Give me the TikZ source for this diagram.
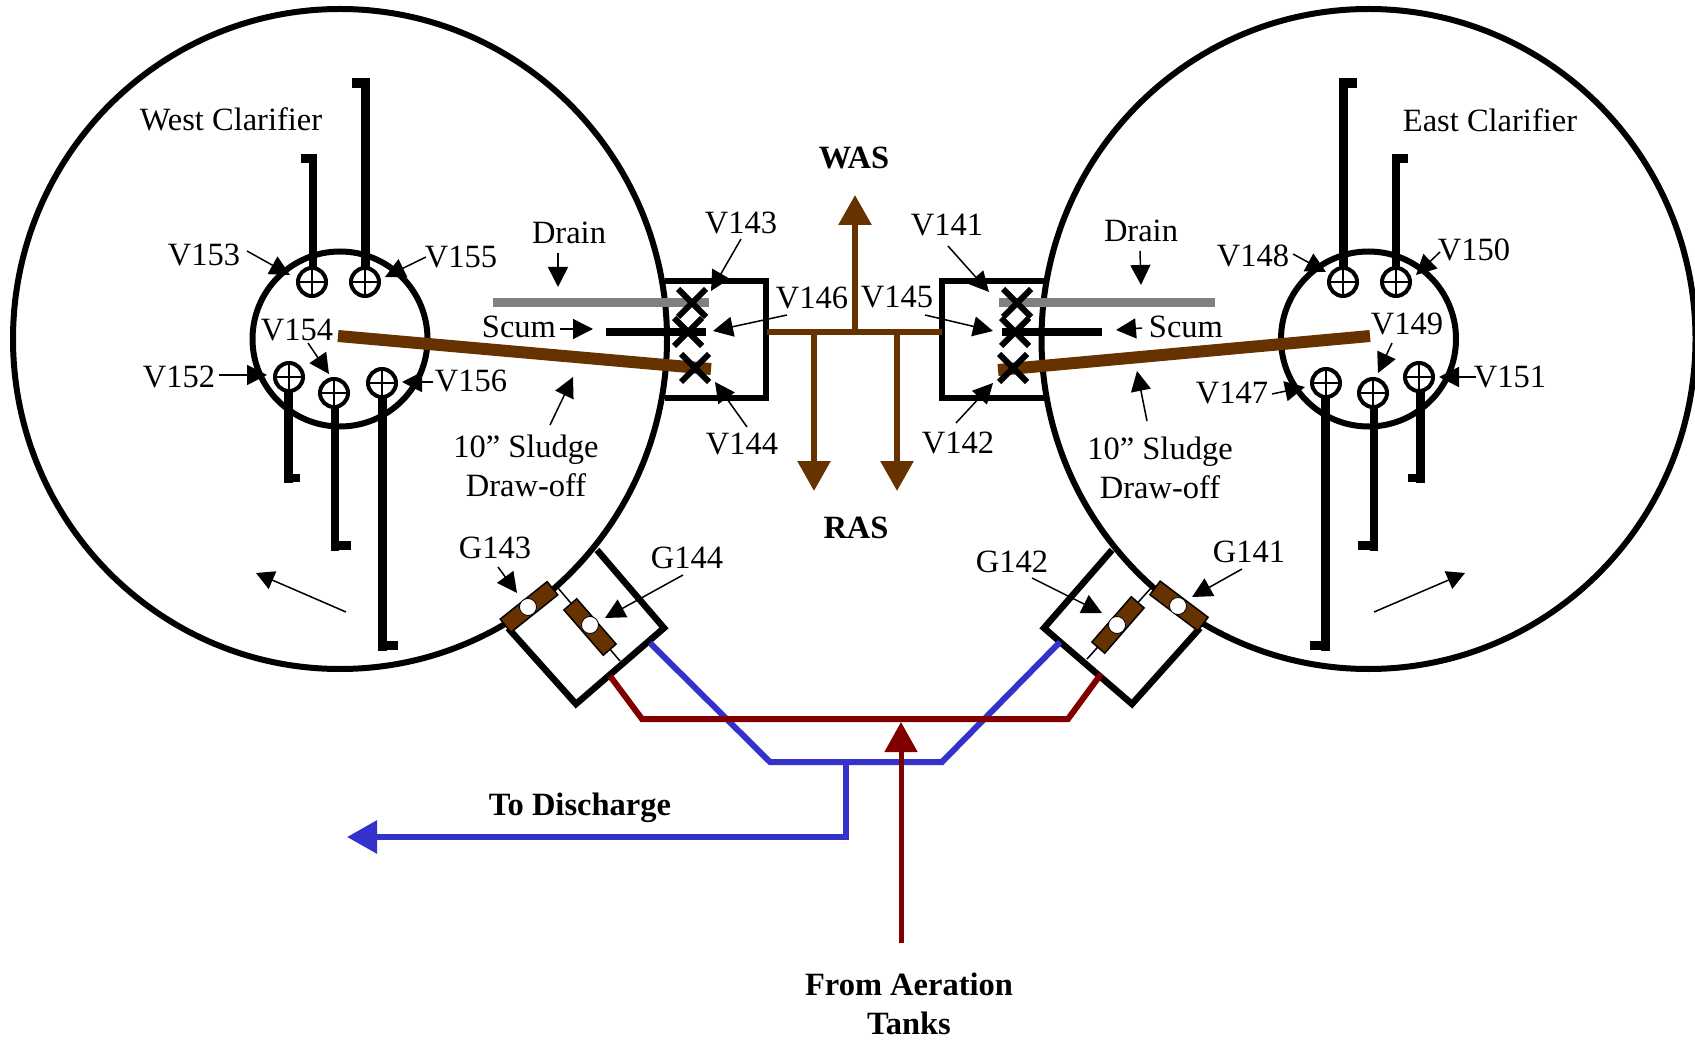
\documentclass[tikz,border=0pt]{standalone}
\usepackage{fontspec}
\setmainfont{Liberation Serif}
\usetikzlibrary{
  arrows.meta,
  shapes.geometric,
  shapes.misc
}
\definecolor{sludgebrown}{RGB}{102,51,0}
\definecolor{dischargeblue}{RGB}{51,51,204}
\definecolor{aerationred}{RGB}{128,0,0}
\definecolor{draingray}{RGB}{128,128,128}

\begin{document}
\begin{tikzpicture}[
  x=1pt, y=-1pt,
  lbl/.style={inner sep=0pt, align=center, font=\fontsize{32.5}{39}\selectfont},
  boldlbl/.style={lbl, font=\fontsize{32.5}{39}\selectfont\bfseries},
  clarifier/.style={ellipse, draw, line width=6pt, minimum width=654pt, minimum height=660pt, inner sep=0pt, outer sep=0pt},
  hub/.style={circle, draw, line width=6pt, minimum size=175pt, inner sep=0pt, outer sep=0pt},
  valve/.style={circle, draw, line width=4pt, fill=white, minimum size=28pt, inner sep=0pt, outer sep=0pt,
                path picture={
                  \draw[line width=1.5pt] (path picture bounding box.north) -- (path picture bounding box.south);
                  \draw[line width=1.5pt] (path picture bounding box.west) -- (path picture bounding box.east);
                }},
  xvalve/.style={cross out, draw, line width=6pt, minimum size=22pt, inner sep=0pt},
  gate/.style={rectangle, draw, line width=1.5pt, fill=sludgebrown, minimum width=60pt, minimum height=17pt, inner sep=0pt},
  hole/.style={circle, draw, line width=0.8pt, fill=white, minimum size=17pt, inner sep=0pt},
  pipe/.style={line width=9pt},
  thinpipe/.style={line width=8pt},
  wall/.style={line width=6.5pt, miter limit=10},
  callout/.style={-{Triangle[length=20pt,width=20pt]}, line width=1.5pt},
  rotation/.style={-{Triangle[length=18pt,width=19pt]}, line width=1.5pt},
  brownarr/.style={-{Triangle[length=30pt,width=32pt]}, line width=6pt, draw=sludgebrown, color=sludgebrown},
  brownline/.style={line width=6pt, draw=sludgebrown},
  bluearr/.style={-{Triangle[length=30pt,width=32pt]}, line width=6pt, draw=dischargeblue, color=dischargeblue},
  redarr/.style={-{Triangle[length=30pt,width=32pt]}, line width=5pt, draw=aerationred, color=aerationred}
]
\useasboundingbox (0,0) rectangle (1695,1040);

\node[clarifier] (west) at (340,339) {};
\node[clarifier] (east) at (1368.5,339) {};
\node[hub] (westhub) at (340,339) {};
\node[hub] (easthub) at (1368.5,339) {};

\node[lbl] at (231,119) (lwest) {West Clarifier};
\node[lbl] at (1490,120) (least) {East Clarifier};

% Valve boxes
\draw[wall] (665,281) -- (766,281) -- (766,398) -- (665,398);
\draw[wall] (1045,281) -- (942,281) -- (942,398) -- (1045,398);

% Sludge headers
\coordinate (boxW) at (767,332);
\coordinate (boxE) at (942,332);
\coordinate (teeWAS) at (855,332);
\coordinate (teeW) at (814,332);
\coordinate (teeE) at (897,332);
\coordinate (tipWAS) at (855,195);
\coordinate (tipW) at (814,491);
\coordinate (tipE) at (897,491);
\draw[brownline] (boxW) -- (boxE);
\draw[brownarr] (teeWAS) -- (tipWAS);
\draw[brownarr] (teeW) -- (tipW);
\draw[brownarr] (teeE) -- (tipE);
\node[boldlbl] at (854,158) (lWAS) {WAS};
\node[boldlbl] at (856,528) (lRAS) {RAS};

% Draw-offs, west
\draw[line width=9pt, draw=draingray] (493,303) -- (709,303);
\draw[line width=8pt] (606,332) -- (706,332);
\draw[line width=12pt, draw=sludgebrown] (338,336) -- (711,369);
\node[xvalve] (V143) at (692,303) {};
\node[xvalve] (V146) at (688,332) {};
\node[xvalve] (V144) at (695,368) {};

% Draw-offs, east
\draw[line width=9pt, draw=draingray] (999,303) -- (1215,303);
\draw[line width=8pt] (1002,332) -- (1102,332);
\draw[line width=12pt, draw=sludgebrown] (998,370) -- (1370,336);
\node[xvalve] (V141) at (1017,303) {};
\node[xvalve] (V145) at (1015,332) {};
\node[xvalve] (V142) at (1013,368) {};

% Hub valves, west
\node[valve] (V153) at (312,282) {};
\node[valve] (V155) at (365,282) {};
\node[valve] (V152) at (289,377) {};
\node[valve] (V154) at (334,393) {};
\node[valve] (V156) at (382,383) {};
\coordinate (endV153) at (312.5,154);
\coordinate (endV155) at (365.5,78);
\coordinate (endV152) at (288,483);
\coordinate (endV154) at (335,551);
\coordinate (endV156) at (382.5,651);
\draw[thinpipe] (V153.north -| endV153) -- (endV153);
\draw[pipe] (V155.north -| endV155) -- (endV155);
\draw[pipe] (V152.south -| endV152) -- (endV152);
\draw[thinpipe] (V154.south -| endV154) -- (endV154);
\draw[pipe] (V156.south -| endV156) -- (endV156);
\fill (301,154) rectangle (312.5,163);
\fill (352,78) rectangle (365.5,88);
\fill (288,474) rectangle (300,482);
\fill (335,541) rectangle (351,550);
\fill (382.5,641) rectangle (398,650);

% Hub valves, east
\node[valve] (V148) at (1343,282) {};
\node[valve] (V150) at (1396,282) {};
\node[valve] (V147) at (1326,383) {};
\node[valve] (V149) at (1373,393) {};
\node[valve] (V151) at (1419,377) {};
\coordinate (endV148) at (1343.5,78);
\coordinate (endV150) at (1396,154);
\coordinate (endV147) at (1325.5,651);
\coordinate (endV149) at (1374,551);
\coordinate (endV151) at (1420.5,483);
\draw[pipe] (V148.north -| endV148) -- (endV148);
\draw[thinpipe] (V150.north -| endV150) -- (endV150);
\draw[pipe] (V147.south -| endV147) -- (endV147);
\draw[thinpipe] (V149.south -| endV149) -- (endV149);
\draw[pipe] (V151.south -| endV151) -- (endV151);
\fill (1343.5,78) rectangle (1357,88);
\fill (1396,154) rectangle (1408,163);
\fill (1310,641) rectangle (1325.5,650);
\fill (1358,541) rectangle (1374,550);
\fill (1408,474) rectangle (1420.5,482);

% Gate boxes
\coordinate (linkWa) at (558,588);
\coordinate (linkWb) at (620,661);
\coordinate (linkEa) at (1151,588);
\coordinate (linkEb) at (1087,659);
\draw[wall] (597,550) -- (664,628) -- (576,704) -- (508,628);
\draw[wall] (1112,550) -- (1044,628) -- (1132,704) -- (1200,628);
\draw[line width=1.5pt] (linkWa) -- (linkWb);
\draw[line width=1.5pt] (linkEa) -- (linkEb);
\node[gate, rotate=38.6] (G143) at (529,607) {};
\node[gate, rotate=-49] (G144) at (590,627) {};
\node[gate, rotate=-37] (G141) at (1179,606) {};
\node[gate, rotate=49] (G142) at (1118,625) {};
\node[hole] (holeG143) at (528,607) {};
\node[hole] (holeG144) at (590,625) {};
\node[hole] (holeG141) at (1178,606) {};
\node[hole] (holeG142) at (1117,625) {};

% Discharge and aeration lines
\coordinate (gateWblue) at (650,643);
\coordinate (bendWblue) at (770,762);
\coordinate (teeBlue) at (846,762);
\coordinate (bendEblue) at (942,762);
\coordinate (gateEblue) at (1060,642);
\coordinate (bendBlue) at (846,837);
\coordinate (tipBlue) at (347,837);
\coordinate (gateWred) at (610,676);
\coordinate (bendWred) at (642,719);
\coordinate (bendEred) at (1068,719);
\coordinate (gateEred) at (1101,674);
\coordinate (fromTanks) at (901,943);
\coordinate (tipRed) at (901,722);
\draw[line width=6pt, draw=dischargeblue] (gateWblue) -- (bendWblue) -- (bendEblue) -- (gateEblue);
\draw[bluearr] (teeBlue) -- (bendBlue) -- (tipBlue);
\draw[line width=6pt, draw=aerationred] (gateWred) -- (bendWred) -- (bendEred) -- (gateEred);
\draw[redarr] (fromTanks) -- (tipRed);
\node[boldlbl] at (580,808) (lDischarge) {To Discharge};
\node[boldlbl] at (909,1004) (lTanks) {From Aeration\\Tanks};

% Labels
\node[lbl] at (569,233) (lDrainW) {Drain};
\node[lbl] at (1141,231) (lDrainE) {Drain};
\node[lbl] at (519,327) (lScumW) {Scum};
\node[lbl] at (1186,327) (lScumE) {Scum};
\node[lbl] at (526,466) (lSludgeW) {10” Sludge\\Draw-off};
\node[lbl] at (1160,468) (lSludgeE) {10” Sludge\\Draw-off};
\node[lbl] at (741,223) (lV143) {V143};
\node[lbl] at (812,298) (lV146) {V146};
\node[lbl] at (742,444) (lV144) {V144};
\node[lbl] at (947,225) (lV141) {V141};
\node[lbl] at (897,297) (lV145) {V145};
\node[lbl] at (958,443) (lV142) {V142};
\node[lbl] at (204,255) (lV153) {V153};
\node[lbl] at (461,257) (lV155) {V155};
\node[lbl] at (297,330) (lV154) {V154};
\node[lbl] at (179,377) (lV152) {V152};
\node[lbl] at (471,381) (lV156) {V156};
\node[lbl] at (1253,256) (lV148) {V148};
\node[lbl] at (1474,250) (lV150) {V150};
\node[lbl] at (1407,324) (lV149) {V149};
\node[lbl] at (1232,393) (lV147) {V147};
\node[lbl] at (1510,377) (lV151) {V151};
\node[lbl] at (495,548) (lG143) {G143};
\node[lbl] at (687,558) (lG144) {G144};
\node[lbl] at (1012,562) (lG142) {G142};
\node[lbl] at (1249,552) (lG141) {G141};

% Callouts
\coordinate (a1) at (558,253); \coordinate (b1) at (558,287); \draw[callout] (a1) -- (b1);
\coordinate (a2) at (1140,251); \coordinate (b2) at (1141,285); \draw[callout] (a2) -- (b2);
\coordinate (a3) at (560,329); \coordinate (b3) at (593,329); \draw[callout] (a3) -- (b3);
\coordinate (a4) at (1142,328); \coordinate (b4) at (1116,330); \draw[callout] (a4) -- (b4);
\coordinate (a5) at (550,425); \coordinate (b5) at (573,377); \draw[callout] (a5) -- (b5);
\coordinate (a6) at (1147,421); \coordinate (b6) at (1137,371); \draw[callout] (a6) -- (b6);
\coordinate (a143) at (741,239); \coordinate (b143) at (711,291); \draw[callout] (a143) -- (b143);
\coordinate (a146) at (787,315); \coordinate (b146) at (713,331); \draw[callout] (a146) -- (b146);
\coordinate (a144) at (747,427); \coordinate (b144) at (715,382); \draw[callout] (a144) -- (b144);
\coordinate (a141) at (948,246); \coordinate (b141) at (989,292); \draw[callout] (a141) -- (b141);
\coordinate (a145) at (925,315); \coordinate (b145) at (993,331); \draw[callout] (a145) -- (b145);
\coordinate (a142) at (956,423); \coordinate (b142) at (993,383); \draw[callout] (a142) -- (b142);
\coordinate (a153) at (247,251); \coordinate (b153) at (290,275); \draw[callout] (a153) -- (b153);
\coordinate (a155) at (426,257); \coordinate (b155) at (385,277); \draw[callout] (a155) -- (b155);
\coordinate (a154) at (308,343); \coordinate (b154) at (329,374); \draw[callout] (a154) -- (b154);
\coordinate (a152) at (219,375); \coordinate (b152) at (267,375); \draw[callout] (a152) -- (b152);
\coordinate (a156) at (433,382); \coordinate (b156) at (402,382); \draw[callout] (a156) -- (b156);
\coordinate (a148) at (1293,254); \coordinate (b148) at (1326,272); \draw[callout] (a148) -- (b148);
\coordinate (a150) at (1440,252); \coordinate (b150) at (1416,275); \draw[callout] (a150) -- (b150);
\coordinate (a149) at (1392,343); \coordinate (b149) at (1378,373); \draw[callout] (a149) -- (b149);
\coordinate (a147) at (1272,394); \coordinate (b147) at (1305,387); \draw[callout] (a147) -- (b147);
\coordinate (a151) at (1476,377); \coordinate (b151) at (1439,377); \draw[callout] (a151) -- (b151);
\coordinate (aG143) at (498,567); \coordinate (bG143) at (517,593); \draw[callout] (aG143) -- (bG143);
\coordinate (aG144) at (683,575); \coordinate (bG144) at (605,618); \draw[callout] (aG144) -- (bG144);
\coordinate (aG142) at (1032,578); \coordinate (bG142) at (1102,613); \draw[callout] (aG142) -- (bG142);
\coordinate (aG141) at (1242,569); \coordinate (bG141) at (1192,597); \draw[callout] (aG141) -- (bG141);

% Rotation
\coordinate (rotWa) at (346,612); \coordinate (rotWb) at (256,573); \draw[rotation] (rotWa) -- (rotWb);
\coordinate (rotEa) at (1374,612); \coordinate (rotEb) at (1465,573); \draw[rotation] (rotEa) -- (rotEb);

\end{tikzpicture}
\end{document}
